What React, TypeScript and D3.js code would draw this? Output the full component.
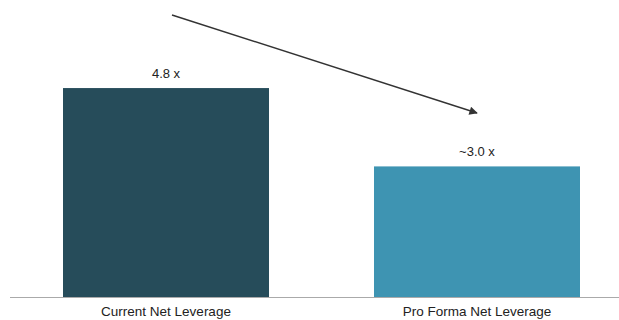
import React from "react";
import * as d3 from "d3";

const categories = ["Current Net Leverage", "Pro Forma Net Leverage"];
const values = [4.8, 3.0];
const valueLabels = ["4.8 x", "~3.0 x"];
const colors = ["#264c5a", "#3e94b2"];

const W = 619;
const H = 320;

export default function App() {
  const x = d3.scaleBand<string>().domain(categories).range([0.8, 642.2]).paddingInner(0.3376).paddingOuter(0.2);
  const y = d3.scaleLinear().domain([0, 6.8]).range([297, 1]);
  const bw = x.bandwidth();
  const ax1 = 172, ay1 = 15;
  const ax2 = 477, ay2 = 113;
  return (
    <svg width={W} height={H} style={{ position: "absolute", left: 0, top: 0, fontFamily: "Liberation Sans, Arial, sans-serif" }}>
      <defs>
        <marker id="ah" viewBox="0 0 10 10" refX="9" refY="5" markerWidth="7" markerHeight="6" orient="auto">
          <path d="M0,0 L10,5 L0,10 z" fill="#333" />
        </marker>
      </defs>
      <rect width={W} height={H} fill="#fff" />
      {categories.map((c, i) => (
        <g key={c}>
          <rect x={x(c)} y={y(values[i])} width={bw} height={y(0) - y(values[i])} fill={colors[i]} />
          <text x={(x(c) as number) + bw / 2} y={y(values[i]) - 10} textAnchor="middle" fontSize={13} fill="#222">
            {valueLabels[i]}
          </text>
          <text x={(x(c) as number) + bw / 2} y={316} textAnchor="middle" fontSize={13.5} fill="#222">
            {c}
          </text>
        </g>
      ))}
      <line x1={10} x2={W} y1={297.5} y2={297.5} stroke="#aaa" strokeWidth={1.2} />
      <line x1={ax1} y1={ay1} x2={ax2} y2={ay2} stroke="#333" strokeWidth={1.4} markerEnd="url(#ah)" />
    </svg>
  );
}
